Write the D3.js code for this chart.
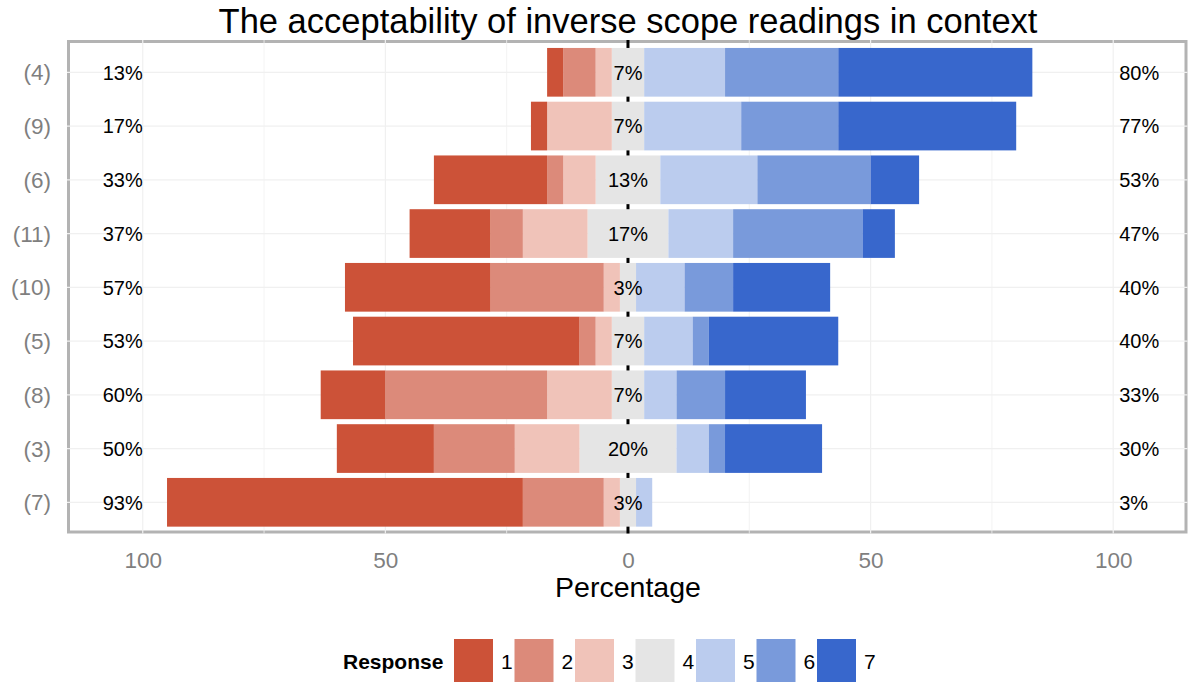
<!DOCTYPE html>
<html><head><meta charset="utf-8">
<script src="https://cdn.jsdelivr.net/npm/d3@7"></script>
<style>body{margin:0;background:#fff}svg{display:block}text{font-family:"Liberation Sans",Arial,sans-serif}</style>
</head><body><svg id="c" width="1188" height="682"></svg>
<script>
const items = ["(4)","(9)","(6)","(11)","(10)","(5)","(8)","(3)","(7)"];
const responses = ["1","2","3","4","5","6","7"];
const resp1 = [3.33, 3.33, 23.33, 16.67, 30.00, 46.67, 13.33, 20.00, 73.33];
const resp2 = [6.67, 0.00, 3.33, 6.67, 23.33, 3.33, 33.33, 16.67, 16.67];
const resp3 = [3.33, 13.33, 6.67, 13.33, 3.33, 3.33, 13.33, 13.33, 3.33];
const resp4 = [6.67, 6.67, 13.33, 16.67, 3.33, 6.67, 6.67, 20.00, 3.33];
const resp5 = [16.67, 20.00, 20.00, 13.33, 10.00, 10.00, 6.67, 6.67, 3.33];
const resp6 = [23.33, 20.00, 23.33, 26.67, 10.00, 3.33, 10.00, 3.33, 0.00];
const resp7 = [40.00, 36.67, 10.00, 6.67, 20.00, 26.67, 16.67, 20.00, 0.00];
const xTicks = [-100, -50, 0, 50, 100];
const colors = ["#CC5238","#DC8A7A","#F0C3B9","#E5E5E5","#BBCCEE","#799ADB","#3867CC"];

const series = [resp1, resp2, resp3, resp4, resp5, resp6, resp7];
const svg = d3.select("#c");
const P = {l: 68.5, r: 1186, t: 41.5, b: 532};
const x = d3.scaleLinear().domain([-115.3, 115]).range([P.l, P.r]);
const y = d3.scalePoint().domain(items).range([72.3, 502.3]);
const bh = y.step() * 0.906;

// background gridlines
const g = svg.append("g");
g.append("rect").attr("x", P.l).attr("y", P.t).attr("width", P.r - P.l).attr("height", P.b - P.t)
  .attr("fill", "#fff").attr("stroke", "#b3b3b3").attr("stroke-width", 3);
const minor = d3.range(-100, 101, 25);
g.selectAll(".vg").data(minor).join("line")
  .attr("x1", d => x(d)).attr("x2", d => x(d)).attr("y1", P.t - 1.5).attr("y2", P.b + 1.5)
  .attr("stroke", "#f0f0f0").attr("stroke-width", d => d % 50 === 0 ? 1.2 : 0.8);
g.selectAll(".hg").data(items).join("line")
  .attr("x1", P.l - 1.5).attr("x2", P.r + 1.5).attr("y1", d => y(d)).attr("y2", d => y(d))
  .attr("stroke", "#f0f0f0").attr("stroke-width", 1.2);

// zero line
svg.append("line").attr("x1", x(0)).attr("x2", x(0)).attr("y1", P.t - 1.5).attr("y2", P.b + 1.5)
  .attr("stroke", "#000").attr("stroke-width", 3);

// bars
const segs = [];
items.forEach((it, i) => {
  const half = resp4[i] / 2;
  segs.push({it, k: 3, x0: -half, x1: half});
  let cur = -half;
  for (let k = 2; k >= 0; k--) { const v = series[k][i]; segs.push({it, k, x0: cur - v, x1: cur}); cur -= v; }
  cur = half;
  for (let k = 4; k <= 6; k++) { const v = series[k][i]; segs.push({it, k, x0: cur, x1: cur + v}); cur += v; }
});
svg.append("g").selectAll("rect").data(segs.filter(s => s.x1 > s.x0)).join("rect")
  .attr("x", d => x(d.x0)).attr("width", d => x(d.x1) - x(d.x0))
  .attr("y", d => y(d.it) - bh / 2).attr("height", bh)
  .attr("fill", d => colors[d.k]);

// labels
const fmt = v => Math.round(v) + "%";
const lab = svg.append("g").attr("font-size", 20).attr("fill", "#000");
items.forEach((it, i) => {
  const low = resp1[i] + resp2[i] + resp3[i];
  const high = resp5[i] + resp6[i] + resp7[i];
  lab.append("text").attr("x", x(-100)).attr("y", y(it)).attr("dy", "0.36em").attr("text-anchor", "end").text(fmt(low));
  lab.append("text").attr("x", x(100) + 6).attr("y", y(it)).attr("dy", "0.36em").attr("text-anchor", "start").text(fmt(high));
  lab.append("text").attr("x", x(0)).attr("y", y(it)).attr("dy", "0.36em").attr("text-anchor", "middle").text(fmt(resp4[i]));
});

// y axis labels
svg.append("g").selectAll("text").data(items).join("text")
  .attr("x", 51).attr("y", d => y(d)).attr("dy", "0.36em").attr("text-anchor", "end")
  .attr("font-size", 22.5).attr("fill", "#7f7f7f").text(d => d);

// x axis
const xa = svg.append("g").attr("transform", `translate(0,${P.b + 1.5})`)
  .call(d3.axisBottom(x).tickValues(xTicks).tickFormat(d => Math.abs(d)).tickSize(0).tickPadding(0));
xa.select(".domain").remove();
xa.selectAll("text").attr("font-size", 22.5).attr("fill", "#7f7f7f").attr("dy", null).attr("y", 34.5)
  .attr("font-family", "Liberation Sans, Arial, sans-serif");

svg.append("text").attr("x", x(0)).attr("y", 597).attr("text-anchor", "middle").attr("font-size", 28.5).text("Percentage");
svg.append("text").attr("x", 628).attr("y", 33).attr("text-anchor", "middle").attr("font-size", 34.5).text("The acceptability of inverse scope readings in context");

// legend
const lg = svg.append("g");
lg.append("text").attr("x", 343).attr("y", 661).attr("dy", "0.36em").attr("font-size", 21).attr("font-weight", "bold").text("Response");
const lx = d3.scaleLinear().domain([0, 6]).range([454, 817]);
responses.forEach((r, k) => {
  lg.append("rect").attr("x", lx(k)).attr("y", 639).attr("width", 39).attr("height", 43).attr("fill", colors[k]);
  lg.append("text").attr("x", lx(k) + 47).attr("y", 661).attr("dy", "0.36em").attr("font-size", 21).text(r);
});
</script></body></html>
